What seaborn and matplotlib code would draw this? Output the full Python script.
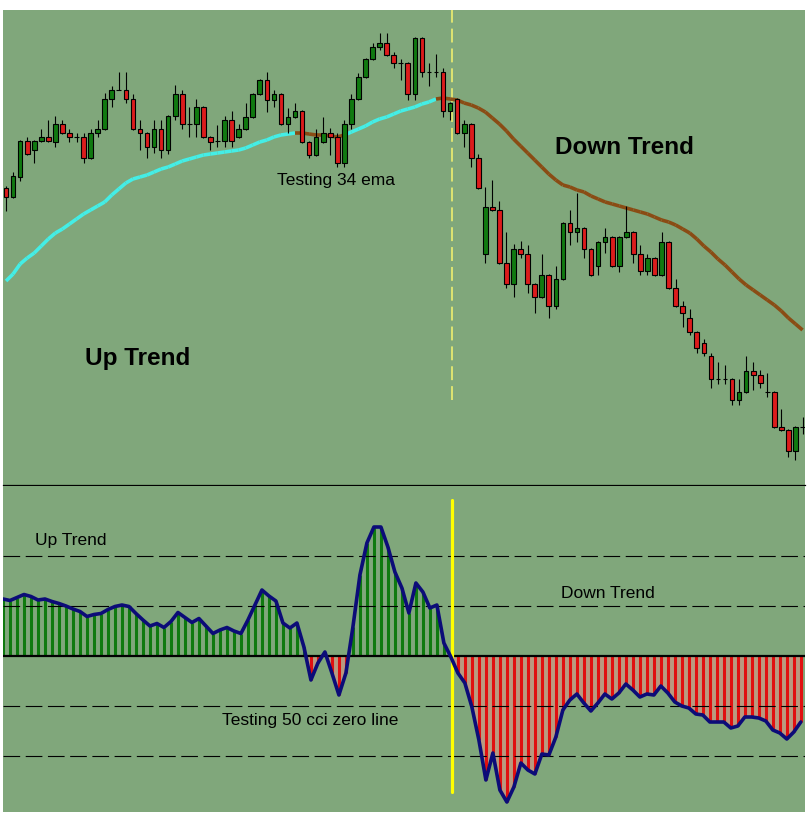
import numpy as np
import pandas as pd
import seaborn as sns
import matplotlib.pyplot as plt
from matplotlib.collections import LineCollection

# price candles (arbitrary price units)
opens = [312, 303, 323, 359, 350, 359, 363, 358, 376, 367,
         363, 363, 342, 367, 371, 401, 410, 410, 401, 371,
         367, 353, 371, 350, 384, 406, 376, 376, 393, 363,
         359, 359, 380, 363, 371, 383, 406, 420, 400, 406,
         376, 383, 389, 358, 345, 358, 367, 363, 337, 376,
         401, 423, 441, 453, 457, 445, 437, 437, 406, 462,
         428, 428, 428, 389, 401, 367, 376, 342, 246, 293,
         290, 237, 216, 251, 246, 216, 203, 225, 194, 221,
         277, 268, 272, 251, 234, 258, 263, 234, 263, 268,
         246, 229, 242, 225, 258, 212, 194, 182, 168, 157,
         144, 121, 121, 121, 100, 108, 129, 125, 108, 108,
         73, 70, 49, 73]
highs = [314, 328, 360, 363, 360, 371, 380, 384, 380, 371,
         367, 367, 371, 380, 407, 414, 428, 428, 406, 380,
         368, 380, 380, 385, 415, 410, 393, 401, 394, 364,
         375, 384, 389, 376, 397, 407, 421, 428, 410, 407,
         392, 397, 390, 359, 371, 383, 372, 367, 380, 406,
         427, 442, 457, 467, 467, 448, 441, 438, 463, 463,
         437, 446, 432, 398, 402, 380, 377, 346, 313, 320,
         299, 268, 256, 259, 255, 217, 246, 226, 234, 278,
         290, 307, 273, 252, 259, 272, 264, 264, 294, 269,
         255, 246, 243, 268, 259, 221, 199, 191, 169, 161,
         147, 138, 135, 122, 121, 144, 138, 130, 127, 109,
         91, 71, 74, 83]
lows = [289, 302, 319, 345, 337, 358, 358, 353, 366, 358,
        358, 337, 341, 363, 370, 393, 410, 397, 370, 350,
        342, 347, 342, 346, 380, 371, 363, 363, 362, 350,
        353, 353, 353, 362, 370, 382, 405, 388, 393, 375,
        367, 382, 357, 342, 344, 357, 345, 333, 333, 371,
        400, 422, 440, 450, 444, 432, 420, 400, 400, 423,
        414, 423, 383, 380, 366, 353, 333, 311, 237, 289,
        236, 212, 203, 242, 207, 187, 202, 182, 191, 220,
        255, 258, 242, 224, 225, 247, 233, 228, 262, 237,
        225, 225, 224, 224, 211, 193, 173, 165, 147, 144,
        112, 116, 116, 95, 95, 107, 110, 112, 103, 72,
        69, 43, 40, 66]
closes = [303, 324, 359, 346, 359, 363, 359, 376, 367, 363,
          363, 342, 367, 371, 401, 410, 410, 401, 371, 367,
          353, 371, 350, 384, 406, 376, 376, 393, 363, 358,
          359, 380, 359, 371, 383, 406, 420, 400, 406, 376,
          383, 389, 358, 345, 363, 367, 363, 337, 376, 401,
          423, 441, 453, 457, 445, 437, 437, 406, 462, 428,
          428, 428, 389, 397, 367, 376, 342, 312, 293, 290,
          237, 216, 251, 246, 216, 203, 225, 194, 221, 277,
          268, 272, 251, 225, 258, 263, 234, 263, 268, 246,
          229, 242, 225, 258, 212, 194, 187, 168, 152, 147,
          121, 121, 121, 100, 108, 129, 125, 117, 108, 73,
          70, 49, 73, 73]

# 34 ema
ema34 = [219, 226, 236, 242, 247, 254, 261, 267, 271, 276,
         281, 286, 290, 294, 298, 305, 311, 317, 321, 323,
         325, 328, 331, 333, 336, 339, 341, 343, 345, 346,
         347, 348, 349, 350, 352, 355, 358, 360, 363, 365,
         366, 367, 367, 366, 365, 365, 364, 363, 365, 368,
         371, 374, 378, 381, 383, 386, 389, 391, 393, 396,
         398, 401, 402, 401, 400, 397, 395, 392, 388, 382,
         376, 369, 361, 354, 347, 340, 333, 326, 320, 315,
         313, 310, 308, 304, 301, 298, 296, 294, 292, 290,
         288, 286, 283, 280, 278, 275, 271, 267, 261, 254,
         248, 241, 235, 228, 221, 215, 210, 205, 200, 195,
         189, 182, 176, 170]

# 50 cci
cci50 = [114, 111, 117, 123, 119, 112, 114, 109, 105, 100,
         94, 89, 79, 83, 85, 93, 99, 102, 99, 85,
         72, 60, 65, 57, 69, 87, 77, 67, 75, 60,
         45, 52, 57, 50, 45, 72, 102, 132, 120, 110,
         66, 56, 66, 18, -48, -14, 8, -34, -78, -34,
         58, 162, 226, 258, 258, 218, 168, 136, 86, 146,
         128, 96, 102, 26, -2, -34, -54, -102, -168, -248,
         -194, -268, -292, -262, -214, -228, -236, -196, -198, -162,
         -108, -88, -76, -94, -110, -94, -76, -86, -74, -56,
         -68, -82, -76, -78, -60, -74, -92, -100, -104, -116,
         -118, -132, -132, -132, -144, -140, -122, -122, -124, -130,
         -148, -154, -166, -152, -132]
cci_levels = [-200, -100, 100, 200]

sns.set_style("white")
plt.rcParams['font.family'] = ['Liberation Sans', 'DejaVu Sans']
plt.rcParams['text.color'] = 'black'
plt.rcParams['lines.scale_dashes'] = False

bg = "#80a77b"
bull = "#107a10"
bear = "#dc1c1c"

df = pd.DataFrame({"o": opens, "h": highs, "l": lows, "c": closes, "ema": ema34})
df["i"] = np.arange(len(df))
df["up"] = df["c"] >= df["o"]

fig = plt.figure(figsize=(8.11, 8.18), dpi=100, facecolor="white")
ax = fig.add_axes([3/811, 333/818, 802/811, 475/818])
ax2 = fig.add_axes([3/811, 6/818, 802/811, 326/818])

# ---- price panel
ax.set_facecolor(bg)
pts = df[["i", "ema"]].to_numpy(dtype=float)
segs = [[pts[k-1], pts[k]] for k in range(1, len(pts))]
seg_cols = ["#8a4c14" if df["l"][k] < df["ema"][k] else "#44eee6" for k in range(1, len(pts))]
ax.add_collection(LineCollection(segs, colors=seg_cols, linewidths=2.6, zorder=2))

ax.vlines(df["i"], df["l"], df["h"], color="black", lw=0.8, zorder=3)
ax.bar(df["i"], (df["c"] - df["o"]).abs(), bottom=df[["o", "c"]].min(axis=1),
       width=0.66, color=np.where(df["up"], bull, bear), edgecolor="black",
       linewidth=0.8, zorder=4)

ax.axvline(63.3, ymin=0.18, ymax=1, color="#eeee70", lw=1.2, ls=(0, (10, 4.3)), zorder=1)

ax.text(87.8, 353, "Down Trend", fontsize=17.5, fontweight="bold", ha="center", va="center", color="black")
ax.text(18.6, 141, "Up Trend", fontsize=17.5, fontweight="bold", ha="center", va="center", color="black")
ax.text(46.8, 319, "Testing 34 ema", fontsize=12.5, ha="center", va="center", color="black")

ax.set_xlim(-0.43, 113.35)
ax.set_ylim(15, 490)
ax.set_xticks([])
ax.set_yticks([])
for s in ["top", "left", "right"]:
    ax.spines[s].set_visible(False)
ax.spines["bottom"].set_color("black")
ax.spines["bottom"].set_linewidth(0.9)

# ---- cci panel
ax2.set_facecolor(bg)
idx = np.arange(len(cci50))
cci = np.array(cci50)
ax2.fill_between(idx, cci, 0, where=cci < 0, interpolate=True, color="#b99a80", lw=0, zorder=1)
ax2.vlines(idx, 0, cci, colors=np.where(cci >= 0, "#0f7a0f", "#e01010"), lw=2.2, zorder=2)
ax2.axhline(0, color="black", lw=1.6, zorder=3)
for lv in cci_levels:
    ax2.axhline(lv, color="black", lw=0.8, ls=(0, (12, 4)), zorder=3)
ax2.axvline(64.1, ymin=0.061, ymax=0.957, color="#ffff00", lw=2.3, zorder=4)
sns.lineplot(x=idx, y=cci, color="#0c0c78", lw=2.6, ax=ax2, zorder=5)

ax2.text(9.7, 230, "Up Trend", fontsize=12.5, ha="center", va="center", color="black")
ax2.text(86.4, 124, "Down Trend", fontsize=12.5, ha="center", va="center", color="black")
ax2.text(43.9, -128, "Testing 50 cci zero line", fontsize=12.5, ha="center", va="center", color="black")

ax2.set_xlim(0, 114.6)
ax2.set_ylim(-312, 340)
ax2.set_xticks([])
ax2.set_yticks([])
ax2.set_xlabel("")
ax2.set_ylabel("")
for s in ax2.spines.values():
    s.set_visible(False)

fig.savefig("out.png", dpi=100, facecolor="white")
